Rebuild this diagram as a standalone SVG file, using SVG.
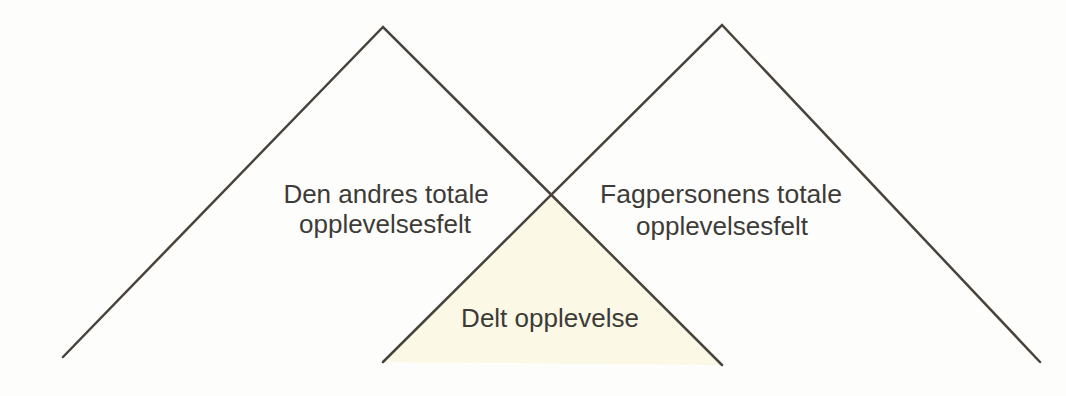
<svg xmlns="http://www.w3.org/2000/svg" width="1066" height="396" viewBox="0 0 1066 396">
<style>
.ln{stroke:#48433c;stroke-width:2.5;fill:none;stroke-linecap:round}
.t{font-family:"Liberation Sans",Arial,sans-serif;font-size:26px;fill:#3d3b37;text-anchor:middle}
</style>
<rect width="1066" height="396" fill="#fdfdfb"/>
<g id="shared">
<polygon points="552,194 383,362 722,365" fill="#fbf8e6"/>
<text class="t" x="550" y="327">Delt opplevelse</text>
</g>
<g id="connectors">
<polyline class="ln" points="63,357 383,27 722,365"/>
<polyline class="ln" points="383,362 722,25 1040,362"/>
</g>
<g id="left">
<text class="t" x="386" y="203">Den andres totale</text>
<text class="t" x="385" y="233">opplevelsesfelt</text>
</g>
<g id="right">
<text class="t" x="721" y="203" textLength="242" lengthAdjust="spacingAndGlyphs">Fagpersonens totale</text>
<text class="t" x="722" y="235">opplevelsesfelt</text>
</g>
</svg>
